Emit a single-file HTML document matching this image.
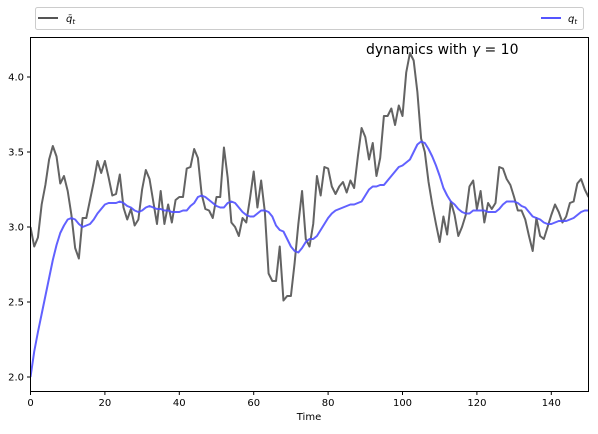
<!DOCTYPE html>
<html><head><meta charset="utf-8"><style>
body{margin:0;background:#fff;font-family:"Liberation Sans","DejaVu Sans",sans-serif}
svg text{font-family:"DejaVu Sans","Liberation Sans",sans-serif}
</style></head><body>
<svg id="chart" width="598" height="429" xmlns="http://www.w3.org/2000/svg">
<rect width="598" height="429" fill="#fff"/>
<g id="legend">
<rect x="35.5" y="7.5" width="548" height="22" rx="2" fill="#fff" stroke="#ccc"/>
<g><line x1="38" y1="18" x2="58" y2="18" stroke="#555" stroke-width="2"/><text x="66" y="22" font-size="10" font-style="italic">q̄<tspan font-size="7" dy="2">t</tspan></text></g>
<g><line x1="541" y1="18" x2="561" y2="18" stroke="#5555ff" stroke-width="2"/><text x="568" y="22" font-size="10" font-style="italic">q<tspan font-size="7" dy="2">t</tspan></text></g>
</g>
<g id="axes"></g>
<g id="series"></g>
<rect x="30.5" y="37.5" width="558" height="354" fill="none" stroke="#000" stroke-width="1"/>
<text x="366" y="54" font-size="14">dynamics with <tspan font-style="italic">γ</tspan> = 10</text>
<text x="309" y="420" font-size="10" text-anchor="middle">Time</text>
</svg>
<script>
const qbar=[3.0,2.87,2.93,3.15,3.28,3.45,3.54,3.47,3.29,3.34,3.24,3.08,2.86,2.79,3.06,3.06,3.18,3.30,3.44,3.36,3.44,3.33,3.21,3.22,3.35,3.13,3.05,3.12,3.01,3.05,3.25,3.38,3.32,3.17,3.02,3.24,3.02,3.15,3.03,3.18,3.20,3.20,3.39,3.40,3.52,3.46,3.22,3.12,3.11,3.06,3.20,3.20,3.53,3.33,3.03,3.00,2.94,3.06,3.03,3.19,3.37,3.13,3.31,3.10,2.69,2.64,2.64,2.87,2.51,2.54,2.54,2.76,3.02,3.24,2.92,2.87,3.02,3.34,3.21,3.40,3.39,3.27,3.22,3.27,3.30,3.23,3.31,3.26,3.47,3.66,3.60,3.45,3.56,3.34,3.46,3.74,3.74,3.79,3.68,3.81,3.74,4.03,4.16,4.11,3.90,3.59,3.50,3.30,3.15,3.02,2.90,3.07,2.95,3.17,3.08,2.94,3.00,3.08,3.27,3.31,3.12,3.24,3.03,3.16,3.12,3.16,3.40,3.39,3.32,3.28,3.20,3.11,3.11,3.05,2.94,2.84,3.06,2.94,2.92,3.00,3.08,3.15,3.10,3.03,3.07,3.16,3.17,3.29,3.32,3.25,3.20];
const qt=[2.0,2.17,2.30,2.42,2.54,2.66,2.78,2.88,2.96,3.01,3.05,3.06,3.05,3.02,3.00,3.01,3.02,3.05,3.09,3.12,3.15,3.16,3.16,3.16,3.17,3.16,3.14,3.13,3.11,3.10,3.11,3.13,3.14,3.13,3.12,3.12,3.11,3.11,3.10,3.10,3.10,3.11,3.11,3.14,3.16,3.20,3.21,3.20,3.18,3.16,3.14,3.13,3.13,3.16,3.17,3.16,3.13,3.10,3.08,3.07,3.07,3.09,3.11,3.11,3.10,3.07,3.01,2.98,2.97,2.92,2.87,2.84,2.83,2.86,2.90,2.92,2.92,2.94,2.98,3.02,3.06,3.09,3.11,3.12,3.13,3.14,3.15,3.15,3.16,3.17,3.21,3.25,3.27,3.27,3.28,3.28,3.31,3.34,3.37,3.40,3.41,3.43,3.45,3.50,3.55,3.57,3.56,3.52,3.47,3.41,3.34,3.26,3.21,3.17,3.15,3.12,3.10,3.09,3.09,3.11,3.11,3.11,3.11,3.10,3.10,3.10,3.12,3.15,3.17,3.17,3.17,3.16,3.14,3.13,3.10,3.07,3.06,3.05,3.03,3.02,3.02,3.03,3.04,3.04,3.04,3.05,3.06,3.08,3.10,3.11,3.11];
const xTicks=[0,20,40,60,80,100,120,140];
const yTicks=[2.0,2.5,3.0,3.5,4.0];
const X=t=>30.5+t*558/150;
const Y=v=>77-(v-4)*150;
const NS="http://www.w3.org/2000/svg";
const axes=document.getElementById('axes'),series=document.getElementById('series');
function mk(tag,at,parent){const e=document.createElementNS(NS,tag);for(const k in at)e.setAttribute(k,at[k]);parent.appendChild(e);return e;}
xTicks.forEach(t=>{
 const l=mk('line',{x1:X(t),x2:X(t),y1:391.5,y2:395,stroke:'#000'},axes);
 
 
 const tx=mk('text',{x:X(t),y:406,'font-size':10,'text-anchor':'middle'},axes);tx.textContent=t;
 
 
});
yTicks.forEach(v=>{
 const l=mk('line',{x1:27,x2:30.5,y1:Y(v),y2:Y(v),stroke:'#000'},axes);
 
 
 const tx=mk('text',{x:24,y:Y(v)+3.5,'font-size':10,'text-anchor':'end'},axes);tx.textContent=v.toFixed(1);
 
 
});
const clip=mk('clipPath',{id:'pc'},document.getElementById('chart'));mk('rect',{x:30.5,y:37.5,width:558,height:354},clip);
function line(arr,col,name){
 const d=arr.map((v,i)=>(i?'L':'M')+X(i).toFixed(2)+','+Y(v).toFixed(2)).join('');
 const p=mk('path',{d:d,fill:'none',stroke:col,'stroke-width':2,'clip-path':'url(#pc)','stroke-linejoin':'round'},series);
 
 
}
line(qbar,'rgba(60,60,60,0.8)','qbar-line');
line(qt,'rgba(80,80,255,0.9)','q-line');
</script>
</body></html>
